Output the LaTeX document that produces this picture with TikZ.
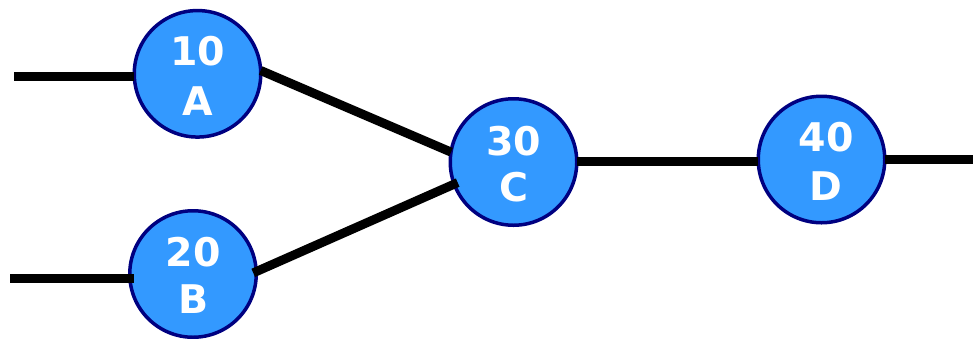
\documentclass[tikz,border=0pt]{standalone}
\usepackage{fontspec}
\newfontfamily\lblfont{DejaVu Sans}
\definecolor{nodefill}{HTML}{3399FF}
\definecolor{nodeedge}{HTML}{000080}
\begin{document}
\begin{tikzpicture}[x=1pt,y=-1pt,
  stage/.style={circle,draw=nodeedge,fill=nodefill,line width=3.5pt,minimum size=126.5pt,inner sep=0pt,outer sep=0pt},
  lbl/.style={anchor=base,inner sep=0pt,text=white,font=\lblfont\bfseries\fontsize{39.5}{46}\selectfont},
  wire/.style={line width=9pt,black}]
\useasboundingbox (0,0) rectangle (973,338);
\node[stage] (A) at (197.5,73.8) {};
\node[stage] (B) at (193,274) {};
\node[stage] (C) at (513.5,162) {};
\node[stage] (D) at (821.5,159.5) {};
\node[lbl] (An) at (197.8,65) {10};
\node[lbl] (Al) at (197.8,115) {A};
\node[lbl] (Bn) at (193.3,266.7) {20};
\node[lbl] (Bl) at (193.3,313.3) {B};
\node[lbl] (Cn) at (513.5,155) {30};
\node[lbl] (Cl) at (513.5,201.7) {C};
\node[lbl] (Dn) at (826,151.7) {40};
\node[lbl] (Dl) at (826,200) {D};
\coordinate (a0) at (14,76.7);
\coordinate (b0) at (10,278);
\coordinate (d1) at (973,159.5);
\draw[wire] (a0) -- (A.west |- a0);
\draw[wire] (b0) -- ([xshift=4pt]B.west |- b0);
\draw[wire] (A.3) -- (C.171);
\draw[wire] ([xshift=-3pt]B.1) -- ([xshift=4pt]C.199);
\draw[wire] ([yshift=0.7pt]C.east) -- ([yshift=0.7pt]C.east -| D.west);
\draw[wire] (D.east) -- (d1);
\end{tikzpicture}
\end{document}
